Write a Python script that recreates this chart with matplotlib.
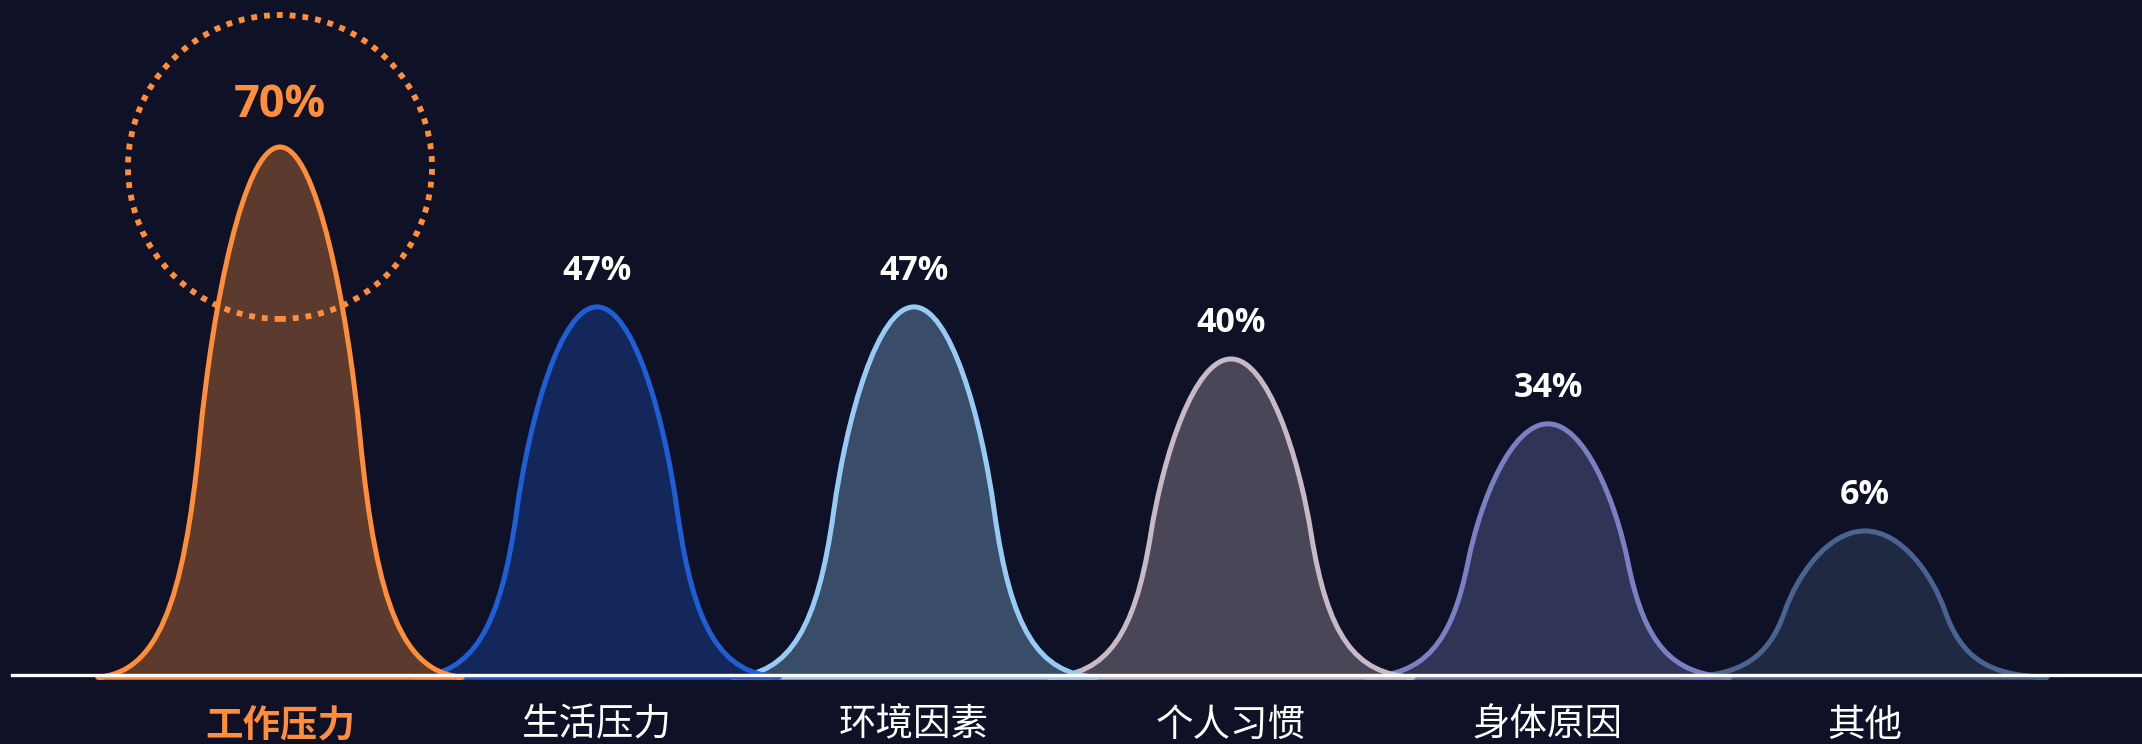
import numpy as np
import matplotlib
matplotlib.use('Agg')
import matplotlib.pyplot as plt
from matplotlib.patches import Ellipse, PathPatch
from matplotlib.path import Path

plt.rcParams['font.family'] = ['Noto Sans CJK SC', 'DejaVu Sans']

categories = ['工作压力', '生活压力', '环境因素', '个人习惯', '身体原因', '其他']
percents = [70, 47, 47, 40, 34, 6]
# peak heights as drawn in the picture (same scale as the 70% peak)
peak_heights = [70, 48.8, 48.8, 41.9, 33.3, 19.1]
line_colors = ['#FF8D3A', '#1F5FD6', '#97CBF5', '#C8B9C6', '#7A80C2', '#4A6391']
fill_colors = ['#5C3A2E', '#13275A', '#3A4D68', '#494657', '#303456', '#1F2941']

bg = '#0F1226'
orange = '#FF8D3A'

fig = plt.figure(figsize=(21.42, 7.44), dpi=100, facecolor=bg)
ax = fig.add_axes([0, 0, 1, 1])
ax.set_facecolor(bg)
ax.set_xlim(-0.8833, 5.874)
ax.set_ylim(-9.147, 89.49)
ax.axis('off')

half = 0.575      # half width of one bell, category units
base = -0.3       # bells sit just under the white axis line

# bell symbol as cubic bezier, u in [-1, 1], v in [0, 1] (right half, mirrored)
right = [(0.2, 1), (0.37, 0.70), (0.44, 0.45),
         (0.53, 0.13), (0.68, 0.01), (1, 0)]
left = [(-x, y) for x, y in reversed([(0, 1)] + right[:-1])]
bell_pts = np.array([(-1, 0)] + left + right + [(-1, 0)], dtype=float)
bell_codes = [Path.MOVETO] + [Path.CURVE4] * 12 + [Path.CLOSEPOLY]

for i, (h, lc, fc) in enumerate(zip(peak_heights, line_colors, fill_colors)):
    pts = bell_pts.copy()
    pts[:, 0] = i + half * pts[:, 0]
    pts[:, 1] = base + (h - base) * pts[:, 1]
    ax.add_patch(PathPatch(Path(pts, bell_codes), facecolor=fc, edgecolor=lc,
                           linewidth=3.6, joinstyle='round', zorder=10 - i))

    first = i == 0
    ax.annotate(f'{percents[i]}%', xy=(i, h), xytext=(0, 30 if first else 26),
                textcoords='offset points', ha='center', va='center',
                fontsize=32.5 if first else 24.5, fontweight='bold',
                family=['Open Sans', 'DejaVu Sans'],
                color=orange if first else 'white', zorder=20)
    ax.annotate(categories[i], xy=(i, 0), xytext=(0, -36),
                textcoords='offset points', ha='center', va='center',
                fontsize=27, fontweight='bold' if first else 'normal',
                color=orange if first else 'white', zorder=20)

# white axis line
ax.axhline(0, xmin=12 / 2142, xmax=1, color='white', linewidth=2.4, zorder=15)

# dotted ring around the top category
ring = Ellipse((0, peak_heights[0] - 2.65), width=2 * 152 / 317, height=2 * 152 / 7.543,
               fill=False, edgecolor=orange, linewidth=4.2,
               linestyle=(0, (1, 1.2)), zorder=18)
ax.add_patch(ring)

fig.savefig('out.png', dpi=100, facecolor=bg)
